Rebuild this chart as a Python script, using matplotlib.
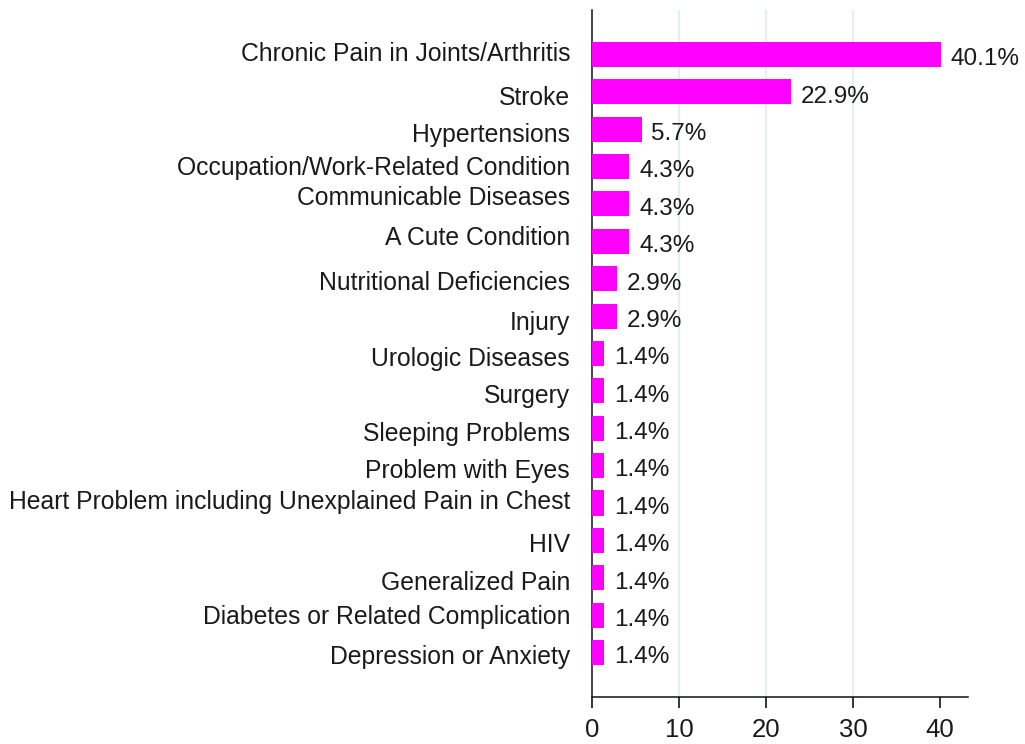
import matplotlib.pyplot as plt
import numpy as np
from matplotlib import transforms

# Datos del gráfico
conditions = [
    "Chronic Pain in Joints/Arthritis",
    "Stroke",
    "Hypertensions",
    "Occupation/Work-Related Condition",
    "Communicable Diseases",
    "A Cute Condition",
    "Nutritional Deficiencies",
    "Injury",
    "Urologic Diseases",
    "Surgery",
    "Sleeping Problems",
    "Problem with Eyes",
    "Heart Problem including Unexplained Pain in Chest",
    "HIV",
    "Generalized Pain",
    "Diabetes or Related Complication",
    "Depression or Anxiety",
]
percent = [40.1, 22.9, 5.7, 4.3, 4.3, 4.3, 2.9, 2.9,
           1.4, 1.4, 1.4, 1.4, 1.4, 1.4, 1.4, 1.4, 1.4]
x_ticks = [0, 10, 20, 30, 40]

# pequeños desplazamientos verticales de las etiquetas (px), como en el original
label_nudge = [-3, 3, 3, -2, -9, -6, 1, 4, 3, 2, 3, 2, -4, 2, 2, -1, 2]

plt.rcParams['font.family'] = ['Liberation Sans', 'DejaVu Sans']

fig = plt.figure(figsize=(10.25, 7.44), dpi=100)
ax = fig.add_axes([0.5776, 0.0632, 0.3668, 0.9234])

pos = np.arange(len(conditions))
ax.barh(pos, percent, height=0.67, color="#ff00ff", zorder=3)

ax.set_xlim(0, 43.2)
ax.set_ylim(17.19, -1.19)

# etiquetas de valor
for y, v in zip(pos, percent):
    ax.annotate(f"{v:.1f}%", (v, y), xytext=(7, -3.5), textcoords="offset points",
                va="center", ha="left", fontsize=17.5, color="#1a1a1a")

# etiquetas de categoría a la izquierda del eje
ytrans = ax.get_yaxis_transform()
for y, name, dy in zip(pos, conditions, label_nudge):
    off = transforms.ScaledTranslation(-22 / 100, -(dy + 3) / 100, fig.dpi_scale_trans)
    ax.text(0, y, name, transform=ytrans + off, ha="right", va="center",
            fontsize=17.8, color="#1a1a1a")

ax.set_yticks([])
ax.set_xticks(x_ticks)
ax.tick_params(axis="x", length=8, width=1.1, pad=7, labelsize=18.5, labelcolor="#1a1a1a")

ax.grid(axis="x", color="#e6eef1", linewidth=1.6, zorder=0)
for val, gl in zip(x_ticks, ax.get_xgridlines()):
    if val in (0, 40):
        gl.set_visible(False)

for side in ("top", "right"):
    ax.spines[side].set_visible(False)
for side in ("left", "bottom"):
    ax.spines[side].set_linewidth(1.1)
    ax.spines[side].set_color("#111111")

fig.savefig("out.png", dpi=100)
